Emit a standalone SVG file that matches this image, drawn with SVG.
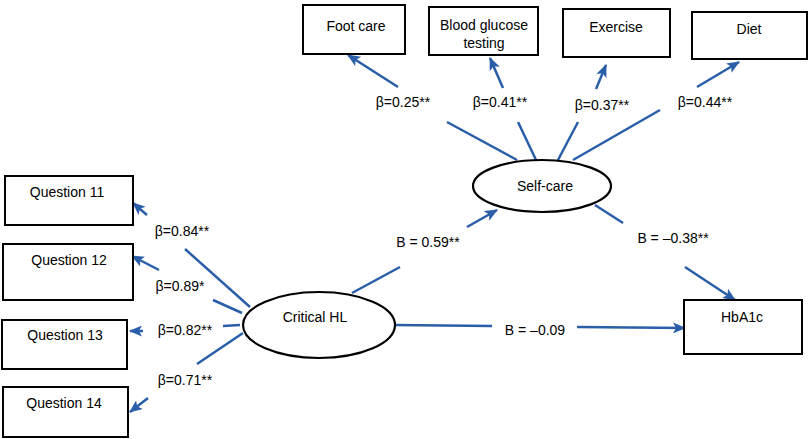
<svg xmlns="http://www.w3.org/2000/svg" width="810" height="439" viewBox="0 0 810 439">
<defs>
<marker id="ah" viewBox="0 0 13 11" refX="12" refY="5.5" markerWidth="13" markerHeight="11" markerUnits="userSpaceOnUse" orient="auto">
<path d="M0,0 L13,5.5 L0,11 L3,5.5 Z" fill="#2a5ea8"/>
</marker>
<style>
.box{fill:#fff;stroke:#000;stroke-width:2}
.ell{fill:#fff;stroke:#000;stroke-width:2.2}
.t{font-family:"Liberation Sans",Arial,sans-serif;font-size:14px;fill:#000;text-anchor:middle}
.c{stroke:#2a5ea8;stroke-width:2.5;fill:none}
.a{marker-end:url(#ah)}
</style>
</defs>
<rect width="810" height="439" fill="#fff"/>
<g id="connectors">
<line class="c" x1="517" y1="160" x2="447" y2="122"/>
<line class="c a" x1="398" y1="87" x2="348" y2="55"/>
<line class="c" x1="537" y1="162" x2="518" y2="122"/>
<line class="c a" x1="503" y1="88" x2="490" y2="58"/>
<line class="c" x1="558" y1="160" x2="578" y2="122"/>
<line class="c a" x1="596" y1="89" x2="606" y2="65"/>
<line class="c" x1="573" y1="160" x2="660" y2="110"/>
<line class="c a" x1="697" y1="87" x2="739" y2="62"/>
<line class="c" x1="250" y1="307" x2="185" y2="249"/>
<line class="c a" x1="147" y1="215" x2="133" y2="203"/>
<line class="c" x1="242" y1="313" x2="213" y2="300"/>
<line class="c a" x1="159" y1="270" x2="132" y2="256"/>
<line class="c" x1="240" y1="325" x2="223" y2="326"/>
<line class="c a" x1="143" y1="331" x2="130" y2="331"/>
<line class="c" x1="243" y1="333" x2="197" y2="364"/>
<line class="c a" x1="148" y1="398" x2="130" y2="412"/>
<line class="c" x1="352" y1="293" x2="400" y2="267"/>
<line class="c a" x1="467" y1="227" x2="497" y2="210"/>
<line class="c" x1="595" y1="205" x2="623" y2="223"/>
<line class="c a" x1="685" y1="267" x2="735" y2="300"/>
<line class="c" x1="394" y1="325" x2="492" y2="326"/>
<line class="c a" x1="577" y1="327" x2="685" y2="328"/>
</g>
<g id="foot-care"><rect class="box" x="303" y="5" width="102" height="49"/><text class="t" x="356" y="31">Foot care</text></g>
<g id="blood-glucose"><rect class="box" x="429" y="7" width="109" height="48"/><text class="t" x="484" y="30">Blood glucose</text><text class="t" x="484" y="48">testing</text></g>
<g id="exercise"><rect class="box" x="563" y="9" width="107" height="48"/><text class="t" x="616" y="32">Exercise</text></g>
<g id="diet"><rect class="box" x="692" y="12" width="115" height="47"/><text class="t" x="749" y="34">Diet</text></g>
<g id="self-care"><ellipse class="ell" cx="542" cy="186" rx="69" ry="26"/><text class="t" x="545" y="191">Self-care</text></g>
<g id="q11"><rect class="box" x="5" y="176" width="128" height="49"/><text class="t" x="67" y="197">Question 11</text></g>
<g id="q12"><rect class="box" x="3" y="244" width="130" height="56"/><text class="t" x="69" y="265">Question 12</text></g>
<g id="q13"><rect class="box" x="2" y="320" width="125" height="49"/><text class="t" x="65" y="340">Question 13</text></g>
<g id="q14"><rect class="box" x="3" y="387" width="125" height="50"/><text class="t" x="64" y="408">Question 14</text></g>
<g id="critical-hl"><ellipse class="ell" cx="319" cy="325" rx="76" ry="33"/><text class="t" x="315" y="322">Critical HL</text></g>
<g id="hba1c"><rect class="box" x="684" y="300" width="118" height="54"/><text class="t" x="742" y="322">HbA1c</text></g>
<g id="labels">
<text class="t" x="403" y="107">β=0.25**</text>
<text class="t" x="500" y="107">β=0.41**</text>
<text class="t" x="602" y="110">β=0.37**</text>
<text class="t" x="705" y="107">β=0.44**</text>
<text class="t" x="182" y="236">β=0.84**</text>
<text class="t" x="180" y="291">β=0.89*</text>
<text class="t" x="185" y="335">β=0.82**</text>
<text class="t" x="185" y="385">β=0.71**</text>
<text class="t" x="428" y="247">B = 0.59**</text>
<text class="t" x="673" y="243">B = –0.38**</text>
<text class="t" x="535" y="335">B = –0.09</text>
</g>
</svg>
